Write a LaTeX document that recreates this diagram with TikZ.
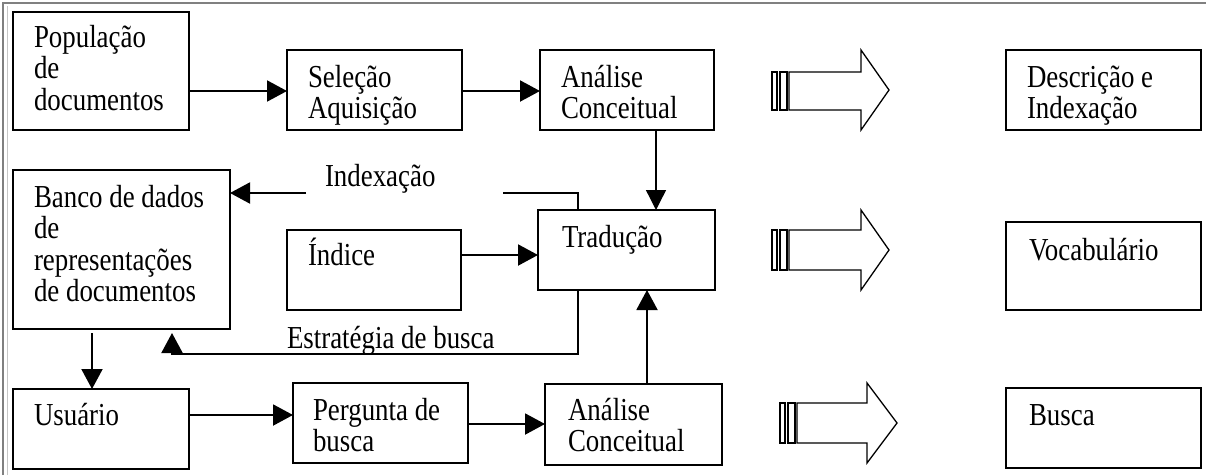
\documentclass[tikz,border=0pt]{standalone}
\usepackage{fontspec}
\setmainfont{Liberation Serif}[FakeStretch=0.84]
\usetikzlibrary{arrows.meta}
\newcommand{\mlines}[1]{\begin{tabular}[t]{@{}l@{}}#1\end{tabular}}
\begin{document}
\begin{tikzpicture}[x=1pt,y=-1pt,
  box/.style={draw=black,line width=2pt,inner sep=0pt,outer sep=0pt,anchor=north west},
  txt/.style={inner sep=0pt,outer sep=0pt,anchor=base west,font=\fontsize{32}{31.5}\selectfont},
  arr/.style={line width=2pt,-{Triangle[length=20pt,width=21pt]}},
  thinarr/.style={line width=1.3pt,-{Triangle[length=20pt,width=20pt]}},
  conn/.style={line width=2pt},
  bigarrow/.style={draw=black,line width=1.3pt,fill=white,line join=miter},
  stripe/.style={draw=black,line width=1.1pt,fill=white},
  frame/.style={draw=gray,line width=1.6pt}]
\useasboundingbox (0,0) rectangle (1206,475);
\fill[white] (0,0) rectangle (1206,475);
% frame of the screenshot
\draw[frame] (3,475) -- (3,3) -- (1206,3);
\draw[gray!45,line width=1pt] (7,475) -- (7,6);

% boxes
\node[box,minimum width=176pt,minimum height=118pt] (pop) at (13,12) {};
\node[box,minimum width=175pt,minimum height=80pt] (sel) at (287,50) {};
\node[box,minimum width=174pt,minimum height=80pt] (an1) at (540,50) {};
\node[box,minimum width=195pt,minimum height=80pt] (desc) at (1006,50) {};
\node[box,minimum width=217pt,minimum height=159pt] (banco) at (13,170) {};
\node[box,minimum width=174pt,minimum height=80pt] (ind) at (287,230) {};
\node[box,minimum width=177pt,minimum height=80pt] (trad) at (538,210) {};
\node[box,minimum width=195pt,minimum height=88pt] (voc) at (1006,222) {};
\node[box,minimum width=176pt,minimum height=80pt] (usu) at (13,389) {};
\node[box,minimum width=175pt,minimum height=80pt] (perg) at (293,383) {};
\node[box,minimum width=177pt,minimum height=81pt] (an2) at (545,384) {};
\node[box,minimum width=195pt,minimum height=80pt] (busca) at (1006,388) {};

% texts
\node[txt] (popT) at (34,47) {\mlines{População\\de\\documentos}};
\node[txt] (selT) at (308,87) {\mlines{Seleção\\Aquisição}};
\node[txt] (an1T) at (561,87) {\mlines{Análise\\Conceitual}};
\node[txt] (descT) at (1027,87) {\mlines{Descrição e\\Indexação}};
\node[txt] (bancoT) at (34,207) {\mlines{Banco de dados\\de\\representações\\de documentos}};
\node[txt] (indT) at (308,265) {Índice};
\node[txt] (tradT) at (562,247) {Tradução};
\node[txt] (vocT) at (1029,260) {Vocabulário};
\node[txt] (usuT) at (34,425) {Usuário};
\node[txt] (pergT) at (313,420) {\mlines{Pergunta de\\busca}};
\node[txt] (an2T) at (568,420) {\mlines{Análise\\Conceitual}};
\node[txt] (buscaT) at (1029,425) {Busca};
\node[txt] (idxLab) at (325,186) {Indexação};
\node[txt] (estLab) at (287,348) {Estratégia de busca};

% connectors
\draw[arr] (pop.east |- 0,91) -- (sel.west |- 0,91);
\draw[arr] (sel.east |- 0,91) -- (an1.west |- 0,91);
\draw[thinarr] (an1.south -| 656,0) -- (trad.north -| 656,0);
\draw[arr] (ind.east |- 0,255) -- (trad.west |- 0,255);
\coordinate (idxR) at (503,193);
\coordinate (idxL) at (306,193);
\draw[conn] (trad.north -| 578,0) |- (idxR);
\draw[arr] (idxL) -- (banco.east |- idxL);
\coordinate (estC) at (172,354);
\draw[arr,shorten >=4pt,line join=miter] (trad.south -| 578,0) |- (estC) -- (banco.south -| estC);
\draw[arr,shorten <=4pt] (banco.south -| 92,0) -- (usu.north -| 92,0);
\draw[arr] (usu.east |- 0,415) -- (perg.west |- 0,415);
\draw[arr] (perg.east |- 0,424) -- (an2.west |- 0,424);
\draw[arr] (an2.north -| 647,0) -- (trad.south -| 647,0);

% big hollow arrows
\draw[stripe] (772,72) rectangle (777,110);
\draw[stripe] (780,72) rectangle (787,110);
\draw[bigarrow] (789,72) -- (861,72) -- (861,50) -- (889,90) -- (861,130) -- (861,110) -- (789,110) -- cycle;

\draw[stripe] (772,230) rectangle (777,270);
\draw[stripe] (780,230) rectangle (787,270);
\draw[bigarrow] (789,230) -- (861,230) -- (861,210) -- (889,250) -- (861,290) -- (861,270) -- (789,270) -- cycle;

\draw[stripe] (780,403) rectangle (785,443);
\draw[stripe] (788,403) rectangle (795,443);
\draw[bigarrow] (797,403) -- (867,403) -- (867,383) -- (897,423) -- (867,463) -- (867,443) -- (797,443) -- cycle;
\end{tikzpicture}
\end{document}
